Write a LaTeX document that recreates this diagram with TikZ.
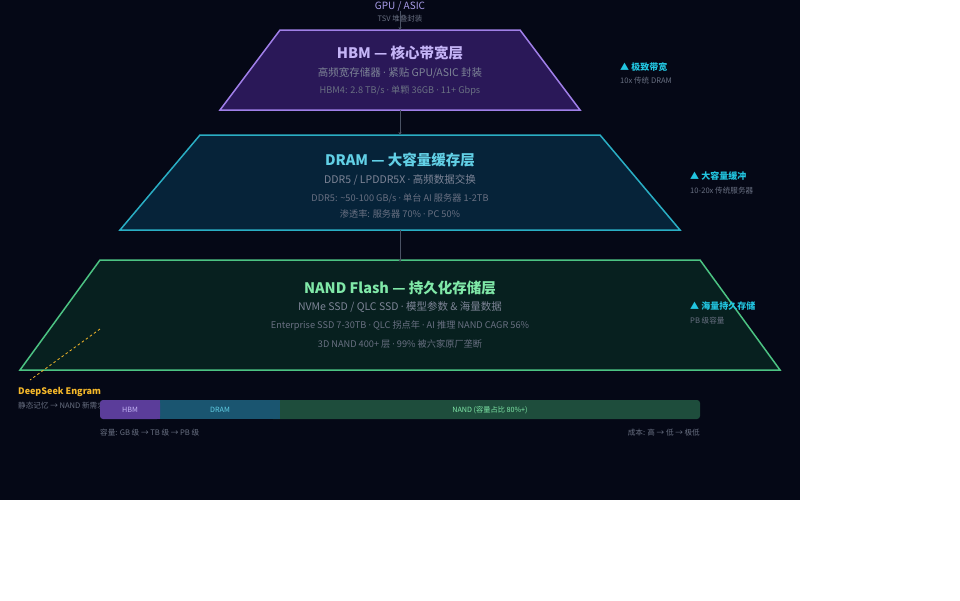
\documentclass[tikz,border=0pt]{standalone}
\usepackage{fontspec}
\setmainfont{Noto Sans CJK SC}
\newfontfamily\latf{Noto Sans}
\newcommand\mdot{{\latf ·}}
\usetikzlibrary{arrows.meta}
\definecolor{bg}{HTML}{050816}
\definecolor{hbmfill}{HTML}{2A1858}
\definecolor{hbmline}{HTML}{A07FE8}
\definecolor{hbmtitle}{HTML}{C4B4F6}
\definecolor{gputext}{HTML}{A89CE8}
\definecolor{dramfill}{HTML}{062339}
\definecolor{dramline}{HTML}{2AAEC4}
\definecolor{dramtitle}{HTML}{62D0E6}
\definecolor{nandfill}{HTML}{07201F}
\definecolor{nandline}{HTML}{4CC383}
\definecolor{nandtitle}{HTML}{80E8A8}
\definecolor{sub}{HTML}{7D8496}
\definecolor{sub2}{HTML}{697082}
\definecolor{note}{HTML}{22C5E0}
\definecolor{amber}{HTML}{F5B82A}
\definecolor{conn}{HTML}{4A5264}
\definecolor{barhbm}{HTML}{5B3D9A}
\definecolor{bardram}{HTML}{1A5570}
\definecolor{barnand}{HTML}{1E4D3C}
\tikzset{
  title/.style={font=\fontsize{14.5}{16}\selectfont\bfseries, inner sep=0pt},
  subline/.style={font=\fontsize{10.5}{12}\selectfont, text=sub, inner sep=0pt},
  detail/.style={font=\fontsize{9.2}{10}\selectfont, text=sub2, inner sep=0pt},
  notehead/.style={font=\fontsize{9}{11}\selectfont\bfseries, text=note, inner sep=0pt, anchor=west},
  notetext/.style={font=\fontsize{7.6}{9}\selectfont, text=sub2, inner sep=0pt, anchor=west},
  conline/.style={draw=conn, line width=1pt, -{Stealth[length=3pt,width=3pt]}},
  barlabel/.style={font=\fontsize{7.2}{9}\selectfont, inner sep=0pt},
  smalltext/.style={font=\fontsize{7.6}{9}\selectfont, text=sub2, inner sep=0pt},
}
\begin{document}
\begin{tikzpicture}[x=1pt,y=-1pt]
\useasboundingbox (0,0) rectangle (960,600);
\fill[white] (0,0) rectangle (960,600);
\fill[bg] (0,0) rectangle (800,500);

% coordinates
\coordinate (hbmT) at (400,30);
\coordinate (hbmB) at (400,110);
\coordinate (dramT) at (400,135);
\coordinate (dramB) at (400,230);
\coordinate (nandT) at (400,262);

% trapezoids
\filldraw[fill=hbmfill, draw=hbmline, line width=1.5pt, line join=miter]
  (280,30) -- (520,30) -- (580,110) -- (220,110) -- cycle;
\filldraw[fill=dramfill, draw=dramline, line width=1.5pt]
  (200,135) -- (600,135) -- (680,230) -- (120,230) -- cycle;
\filldraw[fill=nandfill, draw=nandline, line width=1.5pt]
  (100,260) -- (700,260) -- (780,370) -- (20,370) -- cycle;

% top labels
\node[font=\fontsize{10}{12}\selectfont, text=gputext, inner sep=0pt] (gpu) at (400,6) {GPU / ASIC};
\node[font=\fontsize{7.5}{9}\selectfont, text=sub2, inner sep=0pt] (tsv) at (400,19) {TSV 堆叠封装};
\coordinate (gpuB) at (400,11);

% connectors
\draw[conline] (gpuB) -- (hbmT);
\draw[conline] (hbmB) -- (dramT);
\draw[conline] (dramB) -- (nandT);

% HBM text
\node[title, text=hbmtitle] (hbmtitle) at (400,53) {HBM — 核心带宽层};
\node[subline] (hbmsub) at (400,73) {高频宽存储器 \mdot{} 紧贴 GPU/ASIC 封装};
\node[detail] (hbmdet) at (400,91) {HBM4: 2.8 TB/s \mdot{} 单颗 36GB \mdot{} 11+ Gbps};

% DRAM text
\node[title, text=dramtitle] (dramtitle) at (400,160) {DRAM — 大容量缓存层};
\node[subline] (dramsub) at (400,180) {DDR5 / LPDDR5X \mdot{} 高频数据交换};
\node[detail] (dramdet) at (400,198) {DDR5: \textasciitilde50-100 GB/s \mdot{} 单台 AI 服务器 1-2TB};
\node[detail] (dramdet2) at (400,214) {渗透率: 服务器 70\% \mdot{} PC 50\%};

% NAND text
\node[title, text=nandtitle] (nandtitle) at (400,288) {NAND Flash — 持久化存储层};
\node[subline] (nandsub) at (400,307) {NVMe SSD / QLC SSD \mdot{} 模型参数 \& 海量数据};
\node[detail] (nanddet) at (400,326) {Enterprise SSD 7-30TB \mdot{} QLC 拐点年 \mdot{} AI 推理 NAND CAGR 56\%};
\node[detail] (nanddet2) at (400,344) {3D NAND 400+ 层 \mdot{} 99\% 被六家原厂垄断};

% side notes
\node[notehead] (n1) at (620,67) {▲ 极致带宽};
\node[notetext] (n1b) at (620,81) {10x 传统 DRAM};
\node[notehead] (n2) at (690,176) {▲ 大容量缓冲};
\node[notetext] (n2b) at (690,191) {10-20x 传统服务器};
\node[notehead] (n3) at (690,306) {▲ 海量持久存储};
\node[notetext] (n3b) at (690,321) {PB 级容量};

% DeepSeek Engram
\coordinate (engA) at (100,329);
\coordinate (engB) at (30,380);
\draw[amber, line width=0.8pt, dash pattern=on 2.5pt off 2.5pt] (engA) -- (engB);
\node[font=\fontsize{9}{10}\selectfont\bfseries, text=amber, inner sep=0pt, anchor=west] (eng) at (18,392) {DeepSeek Engram};
\node[smalltext, anchor=west] (engsub) at (18,406) {静态记忆 → NAND 新需求};

% bar
\fill[barnand, rounded corners=3pt] (270,400) rectangle (700,419);
\fill[bardram] (160,400) rectangle (280,419);
\fill[barhbm, rounded corners=3pt] (100,400) rectangle (160,419);
\fill[barhbm] (150,400) rectangle (160,419);
\node[barlabel, text=hbmtitle] (bh) at (130,410) {HBM};
\node[barlabel, text=dramtitle] (bd) at (220,410) {DRAM};
\node[barlabel, text=nandtitle] (bn) at (490,410) {NAND (容量占比 80\%+)};

\node[smalltext, anchor=west] (cap) at (100,433) {容量: GB 级 → TB 级 → PB 级};
\node[smalltext, anchor=east] (cost) at (700,433) {成本: 高 → 低 → 极低};
\end{tikzpicture}
\end{document}
